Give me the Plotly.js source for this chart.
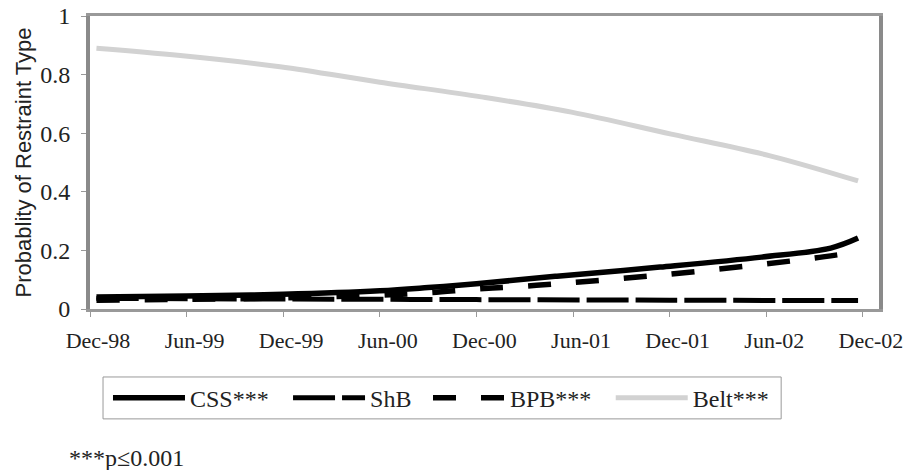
<!DOCTYPE html>
<html>
<head>
<meta charset="utf-8">
<script src="https://cdn.plot.ly/plotly-3.0.1.min.js"></script>
<style>html,body{margin:0;padding:0;background:#fff;}#chart{width:916px;height:470px;}</style>
</head>
<body>
<div id="chart"></div>
<script>
// months since Dec-98
var tickMonths = [0, 6, 12, 18, 24, 30, 36, 42, 48];
var tickLabels = ["Dec-98", "Jun-99", "Dec-99", "Jun-00", "Dec-00", "Jun-01", "Dec-01", "Jun-02", "Dec-02"];

var cssMonths = [0.4, 6, 12, 18, 21, 24, 29, 35.4, 41.7, 46, 47.7];
var cssValues = [0.041, 0.044, 0.05, 0.062, 0.073, 0.086, 0.112, 0.143, 0.177, 0.208, 0.242];

var shbMonths = [0.4, 12, 24, 36, 47.7];
var shbValues = [0.036, 0.034, 0.032, 0.030, 0.029];

var bpbMonths = [0.4, 6, 12, 18, 21, 24, 27, 30.4, 36, 42, 45, 47.7];
var bpbValues = [0.03, 0.033, 0.038, 0.047, 0.055, 0.068, 0.078, 0.092, 0.119, 0.154, 0.174, 0.195];

var beltMonths = [0.4, 5.6, 11.8, 18, 24.3, 29.9, 36.1, 42.3, 47.7];
var beltValues = [0.89, 0.865, 0.827, 0.774, 0.724, 0.672, 0.597, 0.522, 0.437];

var serif = "'Liberation Serif', 'Times New Roman', serif";

var traces = [
  {x: cssMonths, y: cssValues, name: "CSS***", mode: "lines", legend: "legend",
   line: {color: "#000", width: 5.5, shape: "spline"}},
  {x: shbMonths, y: shbValues, name: "ShB", mode: "lines", legend: "legend2",
   line: {color: "#000", width: 5, dash: "42px,7px", shape: "spline"}},
  {x: bpbMonths, y: bpbValues, name: "BPB***", mode: "lines", legend: "legend3",
   line: {color: "#000", width: 5.5, dash: "23px,25px", shape: "spline"}},
  {x: beltMonths, y: beltValues, name: "Belt***", mode: "lines", legend: "legend4",
   line: {color: "#d2d2d2", width: 5, shape: "spline"}}
];

function leg(x) {
  return {
    orientation: "h", x: x, y: -0.304, xanchor: "left", yanchor: "middle",
    borderwidth: 0, bgcolor: "rgba(0,0,0,0)",
    font: {family: serif, size: 24, color: "#222"},
    itemwidth: 72
  };
}

var layout = {
  width: 916, height: 470,
  margin: {l: 90, r: 37, t: 16, b: 161},
  paper_bgcolor: "#fff", plot_bgcolor: "#fff",
  showlegend: true,
  legend: leg(0.0228),
  legend2: leg(0.251),
  legend3: leg(0.4284),
  legend4: leg(0.660),
  shapes: [
    {type: "rect", xref: "paper", yref: "paper", x0: 0.0165, x1: 0.876, y0: -0.232, y1: -0.375,
     line: {color: "#999", width: 1}, fillcolor: "rgba(0,0,0,0)", layer: "below"}
  ],
  xaxis: {
    range: [0, 49], showgrid: false, zeroline: false,
    tickmode: "array", tickvals: tickMonths, ticktext: tickLabels,
    ticks: "outside", ticklen: 5, tickcolor: "#999", tickwidth: 1,
    showline: true, linecolor: "#999", linewidth: 3, mirror: true,
    tickfont: {family: serif, size: 22, color: "#222"},
    ticklabelshift: 8, ticklabelstandoff: 5,
    fixedrange: true
  },
  yaxis: {
    range: [0, 1], showgrid: false, zeroline: false,
    tickmode: "array", tickvals: [0, 0.2, 0.4, 0.6, 0.8, 1],
    ticktext: ["0", "0.2", "0.4", "0.6", "0.8", "1"],
    ticks: "outside", ticklen: 5, tickcolor: "#999", tickwidth: 1,
    showline: true, linecolor: "#8a8a8a", linewidth: 4, mirror: true,
    tickfont: {family: serif, size: 24, color: "#222"},
    ticklabelstandoff: 6,
    title: {text: "Probablity of Restraint Type", font: {family: "'Liberation Sans', Arial, sans-serif", size: 22, color: "#222"}, standoff: 4},
    fixedrange: true
  },
  annotations: [
    {text: "***p≤0.001", xref: "paper", yref: "paper", x: -0.029, y: -0.508,
     xanchor: "left", yanchor: "middle", showarrow: false,
     font: {family: serif, size: 24, color: "#222"}}
  ]
};

Plotly.newPlot("chart", traces, layout, {displayModeBar: false, staticPlot: true});
</script>
</body>
</html>
